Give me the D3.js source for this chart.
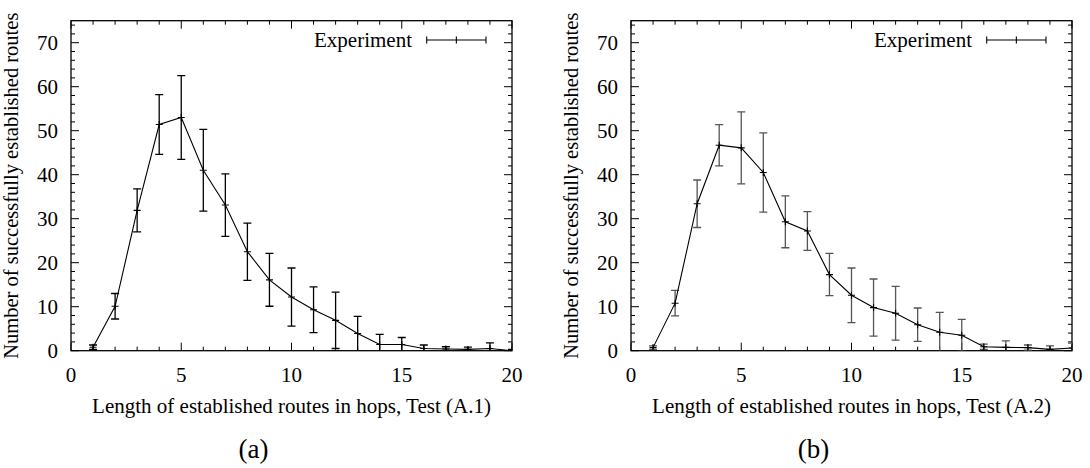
<!DOCTYPE html>
<html>
<head>
<meta charset="utf-8">
<script src="https://cdn.jsdelivr.net/npm/d3@7"></script>
<style>
  html, body { margin: 0; padding: 0; background: #fff; }
  svg { display: block; }
</style>
</head>
<body>
<svg id="chart" width="1090" height="468" font-family="'Liberation Serif', 'DejaVu Serif', serif"></svg>
<script>
// ---- data ----
const hops = [1, 2, 3, 4, 5, 6, 7, 8, 9, 10, 11, 12, 13, 14, 15, 16, 17, 18, 19, 20];
const meanA = [0.8, 10.1, 31.9, 51.4, 53.0, 41.0, 33.1, 22.5, 16.1, 12.2, 9.3, 6.9, 3.9, 1.4, 1.4, 0.5, 0.4, 0.3, 0.5, 0.0];
const errA  = [0.5, 2.9, 4.9, 6.8, 9.5, 9.3, 7.1, 6.5, 6.0, 6.6, 5.2, 6.4, 3.9, 2.3, 1.6, 0.8, 0.5, 0.5, 1.3, 0.3];
const meanB = [0.7, 10.8, 33.4, 46.7, 46.1, 40.5, 29.3, 27.2, 17.3, 12.6, 9.8, 8.5, 5.9, 4.2, 3.5, 0.9, 0.75, 0.7, 0.3, 0.6];
const errB  = [0.4, 2.9, 5.4, 4.7, 8.2, 9.0, 5.9, 4.4, 4.8, 6.2, 6.5, 6.1, 3.8, 4.5, 3.6, 0.6, 1.5, 0.6, 0.8, 1.1];
const xTicks = [0, 5, 10, 15, 20];
const yTicks = [0, 10, 20, 30, 40, 50, 60, 70];
const xMinor = d3.range(0, 21, 1);
const yMinor = d3.range(0, 75, 2);
const yLabel = "Number of successfully established routes";
const xLabels = ["Length of established routes in hops, Test (A.1)", "Length of established routes in hops, Test (A.2)"];
const captions = ["(a)", "(b)"];
const legendLabel = "Experiment";

const FONT = "'Liberation Serif', 'DejaVu Serif', serif";
const svg = d3.select("#chart");

function panel(idx, x0, means, errs, errColor) {
  const x1 = x0 + 441, yTop = 20.7, yBot = 350.7;
  const x = d3.scaleLinear().domain([0, 20]).range([x0, x1]);
  const y = d3.scaleLinear().domain([0, 75]).range([yBot, yTop]);
  const g = svg.append("g").attr("font-family", FONT);
  const clipId = "clip" + idx;
  svg.append("clipPath").attr("id", clipId)
    .append("rect").attr("x", x0).attr("y", yTop).attr("width", x1 - x0).attr("height", yBot - yTop);

  // ticks (all four sides)
  const tk = g.append("g").attr("stroke", "#000").attr("stroke-width", 1);
  xMinor.forEach(v => {
    const L = (v % 5 === 0) ? 8 : 4;
    tk.append("line").attr("x1", x(v)).attr("x2", x(v)).attr("y1", yBot).attr("y2", yBot - L);
    tk.append("line").attr("x1", x(v)).attr("x2", x(v)).attr("y1", yTop).attr("y2", yTop + L);
  });
  yMinor.forEach(v => {
    const L = (v % 10 === 0) ? 8 : 4;
    tk.append("line").attr("y1", y(v)).attr("y2", y(v)).attr("x1", x0).attr("x2", x0 + L);
    tk.append("line").attr("y1", y(v)).attr("y2", y(v)).attr("x1", x1).attr("x2", x1 - L);
  });

  // frame
  g.append("rect").attr("x", x0).attr("y", yTop).attr("width", x1 - x0).attr("height", yBot - yTop)
    .attr("fill", "none").attr("stroke", "#000").attr("stroke-width", 1.3);

  // tick labels
  g.selectAll(".xt").data(xTicks).enter().append("text")
    .attr("font-family", FONT)
    .attr("x", d => x(d)).attr("y", 382).attr("text-anchor", "middle")
    .attr("font-size", 21).text(d => d);
  g.selectAll(".yt").data(yTicks).enter().append("text")
    .attr("font-family", FONT)
    .attr("x", x0 - 13).attr("y", d => y(d)).attr("dy", "0.35em").attr("text-anchor", "end")
    .attr("font-size", 21).text(d => d);

  // axis labels
  g.append("text").attr("font-family", FONT).attr("x", (x0 + x1) / 2).attr("y", 413).attr("text-anchor", "middle")
    .attr("font-size", 21).text(xLabels[idx]);
  g.append("text").attr("font-family", FONT).attr("transform", `translate(${x0 - 53},${(yTop + yBot) / 2}) rotate(-90)`)
    .attr("text-anchor", "middle").attr("font-size", 20.5).text(yLabel);
  g.append("text").attr("font-family", FONT).attr("x", (x0 + x1) / 2 - 38).attr("y", 458).attr("text-anchor", "middle")
    .attr("font-size", 27).text(captions[idx]);

  // data
  const pts = hops.map((h, i) => ({ h, m: means[i], e: errs[i] }));
  const dg = g.append("g").attr("clip-path", `url(#${clipId})`);
  const eb = dg.append("g").attr("stroke", errColor).attr("stroke-width", 1.3).attr("fill", "none");
  pts.forEach(p => {
    const xc = x(p.h), yl = y(p.m - p.e), yh = y(p.m + p.e);
    eb.append("line").attr("x1", xc).attr("x2", xc).attr("y1", yl).attr("y2", yh);
    eb.append("line").attr("x1", xc - 4).attr("x2", xc + 4).attr("y1", yl).attr("y2", yl);
    eb.append("line").attr("x1", xc - 4).attr("x2", xc + 4).attr("y1", yh).attr("y2", yh);
  });
  const line = d3.line().x(d => x(d.h)).y(d => y(d.m));
  dg.append("path").datum(pts).attr("d", line).attr("fill", "none").attr("stroke", "#000").attr("stroke-width", 1.1);
  const mk = dg.append("g").attr("stroke", "#000").attr("stroke-width", 1.1);
  pts.forEach(p => {
    const xc = x(p.h), yc = y(p.m);
    mk.append("line").attr("x1", xc - 3.5).attr("x2", xc + 3.5).attr("y1", yc).attr("y2", yc);
    mk.append("line").attr("x1", xc).attr("x2", xc).attr("y1", yc - 3.5).attr("y2", yc + 3.5);
  });

  // legend
  const lx0 = x0 + 355.7, lx1 = x0 + 415, ly = 40;
  g.append("text").attr("font-family", FONT).attr("x", x0 + 341).attr("y", ly).attr("dy", "0.35em").attr("text-anchor", "end")
    .attr("font-size", 21).text(legendLabel);
  const lg = g.append("g").attr("stroke", "#000").attr("stroke-width", 1.1);
  lg.append("line").attr("x1", lx0).attr("x2", lx1).attr("y1", ly).attr("y2", ly);
  lg.append("line").attr("x1", lx0).attr("x2", lx0).attr("y1", ly - 3.5).attr("y2", ly + 3.5);
  lg.append("line").attr("x1", lx1).attr("x2", lx1).attr("y1", ly - 3.5).attr("y2", ly + 3.5);
  const lm = (lx0 + lx1) / 2;
  lg.append("line").attr("x1", lm).attr("x2", lm).attr("y1", ly - 3.5).attr("y2", ly + 3.5);
}

panel(0, 71, meanA, errA, "#000");
panel(1, 631, meanB, errB, "#555");
</script>
</body>
</html>
